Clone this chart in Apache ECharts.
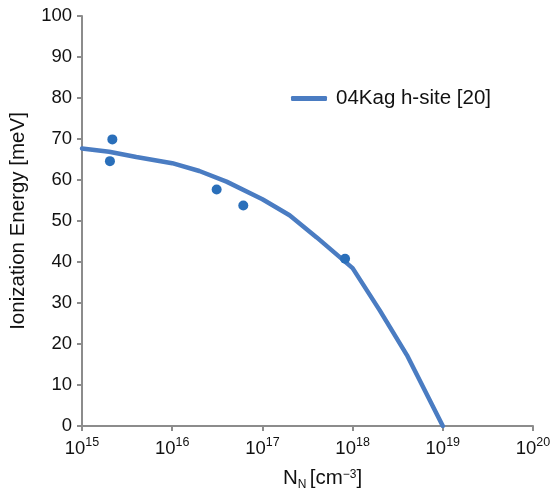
<!DOCTYPE html>
<html>
<head>
<meta charset="utf-8">
<script src="https://cdn.jsdelivr.net/npm/echarts@6/dist/echarts.min.js"></script>
<style>
  html, body { margin: 0; padding: 0; background: #ffffff; }
  #chart { width: 560px; height: 497px; }
</style>
</head>
<body>
<div id="chart"></div>
<script>
// Model curve: nitrogen concentration (cm^-3) vs ionization energy (meV)
var curveN = [1e15, 2e15, 4e15, 1e16, 2e16, 4e16, 1e17, 2e17, 4e17, 1e18, 2e18, 4e18, 1e19];
var curveE = [67.7, 66.9, 65.6, 64.1, 62.2, 59.6, 55.3, 51.4, 46.0, 38.5, 28.2, 17.3, 0];

// Measured points
var measN = [2.04e15, 2.17e15, 3.11e16, 6.14e16, 8.25e17];
var measE = [64.6, 69.9, 57.7, 53.8, 40.8];

var curveName = '04Kag h-site [20]';
var yTicks = { min: 0, max: 100, step: 10 };
var xDecades = { min: 15, max: 20 };

var FONT = '"Liberation Sans", Arial, Helvetica, sans-serif';
var AXIS_COLOR = '#8c8c8c';
var TEXT = '#111111';

var chart = echarts.init(document.getElementById('chart'), null, { renderer: 'canvas' });

var option = {
  backgroundColor: '#ffffff',
  animation: false,
  textStyle: { fontFamily: FONT },
  grid: { left: 82, right: 27, top: 16, bottom: 71, containLabel: false, outerBoundsMode: 'none' },
  legend: {
    data: [curveName],
    left: 286,
    top: 83,
    itemWidth: 36,
    itemHeight: 5,
    icon: 'roundRect',
    textStyle: { fontFamily: FONT, fontSize: 20.5, color: TEXT, padding: [0, 0, 0, 4] }
  },
  xAxis: {
    type: 'log',
    logBase: 10,
    min: Math.pow(10, xDecades.min),
    max: Math.pow(10, xDecades.max),
    name: '{b|N}{s|N} {b|[cm}{p|−3}{b|]}',
    nameLocation: 'middle',
    nameGap: 42,
    nameTextStyle: {
      padding: [0, 0, 0, 30],
      rich: {
        b: { fontFamily: FONT, fontSize: 20.5, color: TEXT },
        s: { fontFamily: FONT, fontSize: 12, color: TEXT, verticalAlign: 'bottom', padding: [0, 0, -2, 0] },
        p: { fontFamily: FONT, fontSize: 12, color: TEXT, verticalAlign: 'top', padding: [1, 0, 0, 0] }
      }
    },
    axisLine: { show: true, onZero: false, lineStyle: { color: AXIS_COLOR, width: 2 } },
    axisTick: { show: true, inside: false, length: 5, lineStyle: { color: AXIS_COLOR, width: 2 } },
    minorTick: { show: false },
    splitLine: { show: false },
    axisLabel: {
      margin: 13,
      formatter: function (v) {
        var e = Math.round(Math.log10(v));
        return '{b|10}{e|' + e + '}';
      },
      rich: {
        b: { fontFamily: FONT, fontSize: 18.5, color: TEXT },
        e: { fontFamily: FONT, fontSize: 12.5, color: TEXT, verticalAlign: 'top', padding: [-3, 0, 0, 0] }
      }
    }
  },
  yAxis: {
    type: 'value',
    min: yTicks.min,
    max: yTicks.max,
    interval: yTicks.step,
    name: 'Ionization Energy [meV]',
    nameLocation: 'middle',
    nameGap: 53,
    nameRotate: 90,
    nameTextStyle: { fontFamily: FONT, fontSize: 20.5, color: TEXT },
    axisLine: { show: true, lineStyle: { color: AXIS_COLOR, width: 2 } },
    axisTick: { show: true, inside: false, length: 5, lineStyle: { color: AXIS_COLOR, width: 2 } },
    splitLine: { show: false },
    axisLabel: { margin: 10, fontFamily: FONT, fontSize: 18.5, color: TEXT }
  },
  series: [
    {
      name: curveName,
      type: 'line',
      data: curveN.map(function (n, i) { return [n, curveE[i]]; }),
      symbol: 'none',
      smooth: false,
      lineStyle: { color: '#4a7cc2', width: 4.5, cap: 'round', join: 'round' },
      itemStyle: { color: '#4a7cc2' },
      z: 2
    },
    {
      name: 'measured',
      type: 'scatter',
      data: measN.map(function (n, i) { return [n, measE[i]]; }),
      symbol: 'circle',
      symbolSize: 10,
      itemStyle: { color: '#2a6fba', opacity: 1 },
      z: 3
    }
  ]
};

chart.setOption(option);
</script>
</body>
</html>
